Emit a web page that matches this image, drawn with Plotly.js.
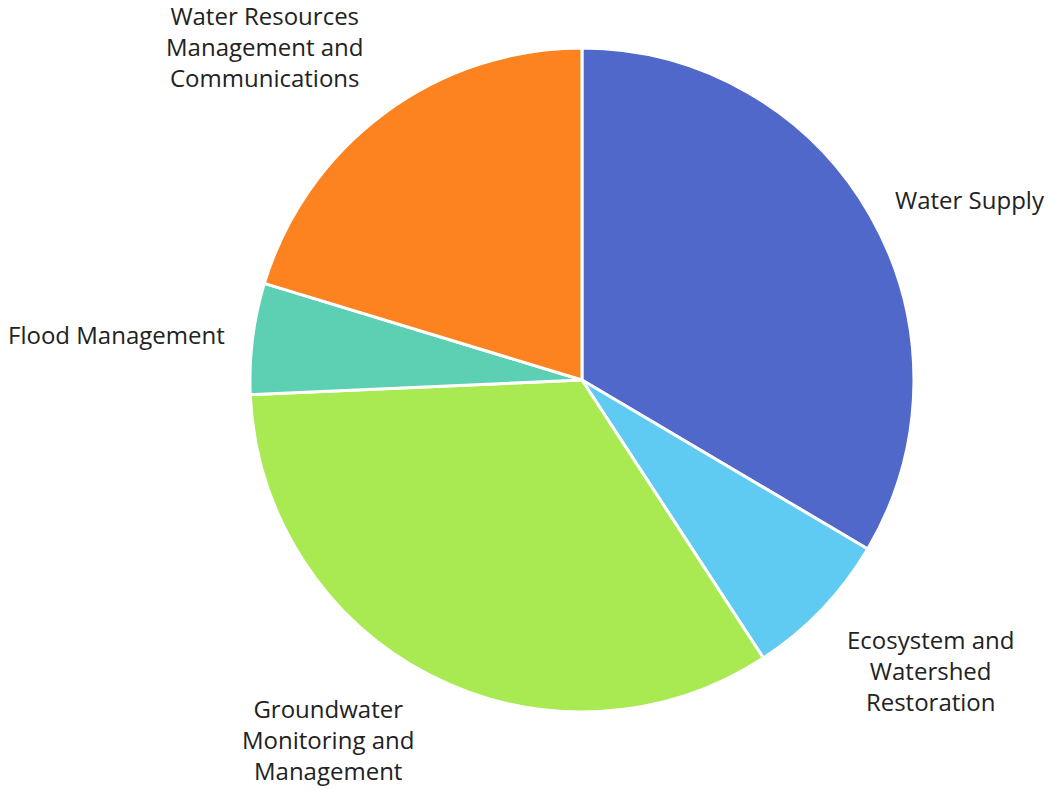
<!DOCTYPE html>
<html><head><meta charset="utf-8">
<script src="https://cdn.plot.ly/plotly-3.0.1.min.js"></script>
<style>html,body{margin:0;padding:0;background:#fff}</style>
</head><body>
<div id="chart" style="width:1048px;height:789px"></div>
<script>
const labels = ["Water Supply", "Ecosystem and<br>Watershed<br>Restoration", "Groundwater<br>Monitoring and<br>Management", "Flood Management", "Water Resources<br>Management and<br>Communications"];
const values = [33.5, 7.3, 33.5, 5.4, 20.3];
const colors = ["#5068C9", "#5FCBF3", "#A9EA53", "#5DCFB2", "#FD8321"];

const W = 1048, H = 789;
const dom = {x: [0.2385, 0.8721], y: [0.0976, 0.9392]};

// Label placement derived from the slice angles (clockwise from 12 o'clock)
const cx = (dom.x[0] + dom.x[1]) / 2 * W;
const cy = (1 - (dom.y[0] + dom.y[1]) / 2) * H;
const R = Math.min((dom.x[1] - dom.x[0]) * W, (dom.y[1] - dom.y[0]) * H) / 2;
const total = values.reduce((a, b) => a + b, 0);
let cum = 0;
const annotations = values.map((v, i) => {
  const mid = (cum + v / 2) / total * 2 * Math.PI;
  cum += v;
  const s = Math.sin(mid), c = Math.cos(mid);
  const ya = c > 0.6 ? "bottom" : (c < -0.6 ? "top" : "middle");
  const gx = ya === "middle" ? 26 : 32;
  const gy = ya === "middle" ? 32 : (ya === "bottom" ? 21 : 17);
  const px = cx + (R + gx) * s;
  const py = cy - (R + gy) * c;
  return {
    x: px / W, y: 1 - py / H, xref: "paper", yref: "paper",
    text: labels[i], showarrow: false,
    xanchor: s >= 0 ? "left" : "right",
    yanchor: ya,
    align: "center",
    font: {family: "Open Sans", size: 24, color: "#222222"}
  };
});

Plotly.newPlot("chart", [{
  type: "pie",
  labels: labels,
  values: values,
  sort: false,
  direction: "clockwise",
  rotation: 0,
  textinfo: "none",
  automargin: false,
  domain: dom,
  marker: {colors: colors, line: {color: "#ffffff", width: 3}},
  showlegend: false,
  hoverinfo: "label+percent"
}], {
  width: W, height: H,
  margin: {l: 0, r: 0, t: 0, b: 0},
  paper_bgcolor: "#ffffff",
  showlegend: false,
  annotations: annotations
}, {displayModeBar: false});
</script>
</body></html>
